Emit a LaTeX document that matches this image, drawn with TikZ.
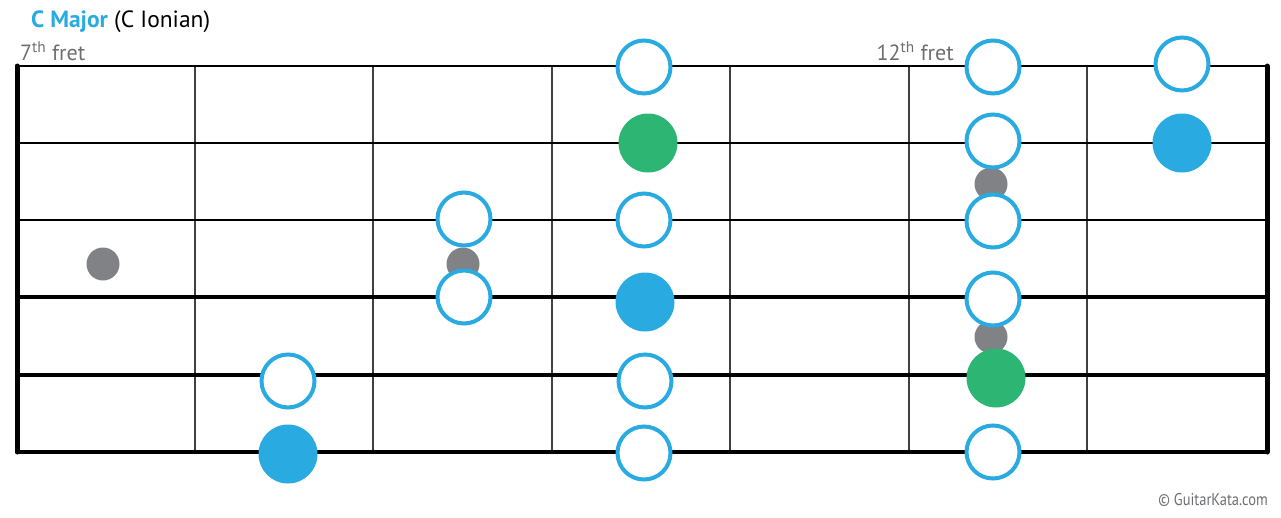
\documentclass[tikz,border=0pt]{standalone}
\usepackage{fontspec}
\setmainfont{PT Sans}
\definecolor{ktblue}{RGB}{41,171,226}
\definecolor{ktgreen}{RGB}{45,182,115}
\definecolor{ktdot}{RGB}{128,130,133}
\definecolor{kttext}{RGB}{109,110,113}
\tikzset{
	scalenote/.style={circle, draw=ktblue, line width=4pt, fill=white, minimum size=53pt, inner sep=0pt},
	rootnote/.style={circle, fill=ktblue, minimum size=59pt, inner sep=0pt},
	thirdnote/.style={circle, fill=ktgreen, minimum size=59pt, inner sep=0pt},
	inlay/.style={circle, fill=ktdot, minimum size=33pt, inner sep=0pt},
	fretline/.style={line width=1.4pt, draw=black!75},
}
\begin{document}
\begin{tikzpicture}[x=1pt,y=-1pt]
	\useasboundingbox (0,0) rectangle (1281,517);
	% frets
	\foreach \x in {195,373,552,730,909,1087} \draw[fretline] (\x,66) -- (\x,452);
	% strings
	\foreach \y/\w in {66/1.4,143/2,220/2.6,297/3.2,375/3.8,452/4.8} \draw[line width=\w pt] (17,\y) -- (1267,\y);
	\draw[line width=5pt, line cap=round] (17,66) -- (17,452);
	\draw[line width=5pt, line cap=round] (1267,66) -- (1267,452);
	% inlays
	\node[inlay] (d7) at (103,264) {};
	\node[inlay] (d9) at (463,264) {};
	\node[inlay] (d12a) at (991,184) {};
	\node[inlay] (d12b) at (991,337) {};
	% notes
	\node[scalenote] (e1) at (644,67) {};
	\node[scalenote] (e2) at (993,67) {};
	\node[scalenote] (e3) at (1182,64) {};
	\node[thirdnote] (b1) at (648,143) {};
	\node[scalenote] (b2) at (993,141) {};
	\node[rootnote] (b3) at (1182,143) {};
	\node[scalenote] (g1) at (464,219) {};
	\node[scalenote] (g2) at (644,220) {};
	\node[scalenote] (g3) at (993,221) {};
	\node[scalenote] (d1) at (464,297) {};
	\node[rootnote] (d2) at (645,302) {};
	\node[scalenote] (d3) at (993,299) {};
	\node[scalenote] (a1) at (288,381) {};
	\node[scalenote] (a2) at (645,381) {};
	\node[thirdnote] (a3) at (996,378) {};
	\node[rootnote] (lowe1) at (288,454) {};
	\node[scalenote] (lowe2) at (644,453) {};
	\node[scalenote] (lowe3) at (993,452) {};
	% texts
	\node[anchor=base west, inner sep=0pt, font=\fontsize{23.5}{27}\selectfont] (title) at (31,27) {\textcolor{ktblue}{\textbf{C Major}} (C Ionian)};
	\node[anchor=base west, inner sep=0pt, text=kttext, font=\fontsize{22}{26}\selectfont] (fret7) at (20,60) {7\textsuperscript{th} fret};
	\node[anchor=base east, inner sep=0pt, text=kttext, font=\fontsize{22}{26}\selectfont] (fret12) at (954,60) {12\textsuperscript{th} fret};
	\node[anchor=base east, inner sep=0pt, text=kttext, font=\fontsize{17}{20}\selectfont] (copy) at (1268,505) {\scalebox{0.85}[1]{© GuitarKata.com}};
\end{tikzpicture}
\end{document}
